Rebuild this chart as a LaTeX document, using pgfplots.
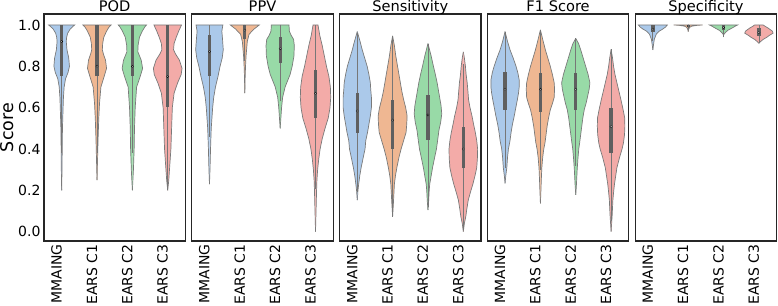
\documentclass[border=0pt]{standalone}
\usepackage{fontspec}
\setmainfont{DejaVu Sans}
\usepackage{pgfplots}
\usepackage{pgfplotstable}
\pgfplotsset{compat=1.18}
\usepgfplotslibrary{groupplots}

\definecolor{cA}{HTML}{ABC9EA}
\definecolor{cB}{HTML}{EFB792}
\definecolor{cC}{HTML}{98DAA7}
\definecolor{cD}{HTML}{F3ABA8}
\definecolor{vgray}{HTML}{7A7A7A}
\definecolor{bgray}{HTML}{5F5F5F}
\definecolor{frm}{HTML}{262626}

% ---------- POD ----------
\pgfplotstableread{
y w
0.20 0
0.30 0.01
0.40 0.015
0.50 0.022
0.60 0.04
0.65 0.05
0.70 0.07
0.74 0.11
0.77 0.18
0.80 0.22
0.84 0.20
0.88 0.15
0.92 0.13
0.94 0.14
0.96 0.17
0.98 0.24
0.99 0.30
1.00 0.37
1.00 0
}\pa
\pgfplotstableread{
y w
0.25 0
0.35 0.015
0.45 0.03
0.55 0.05
0.62 0.07
0.70 0.11
0.75 0.20
0.79 0.27
0.83 0.24
0.86 0.18
0.88 0.15
0.91 0.16
0.94 0.19
0.97 0.27
0.99 0.34
1.00 0.40
1.00 0
}\pb
\pgfplotstableread{
y w
0.20 0
0.30 0.03
0.40 0.05
0.50 0.06
0.60 0.08
0.70 0.12
0.75 0.22
0.79 0.29
0.83 0.25
0.87 0.155
0.90 0.16
0.94 0.20
0.97 0.28
0.99 0.35
1.00 0.40
1.00 0
}\pc
\pgfplotstableread{
y w
0.20 0
0.25 0.03
0.30 0.05
0.40 0.09
0.50 0.11
0.60 0.13
0.67 0.18
0.72 0.28
0.76 0.38
0.79 0.405
0.83 0.33
0.86 0.22
0.88 0.165
0.91 0.18
0.94 0.24
0.97 0.31
1.00 0.39
1.00 0
}\pd
% ---------- PPV ----------
\pgfplotstableread{
y w
0.23 0
0.30 0.015
0.40 0.03
0.50 0.05
0.60 0.09
0.65 0.12
0.70 0.17
0.75 0.24
0.80 0.30
0.84 0.36
0.88 0.39
0.93 0.37
0.97 0.35
1.00 0.38
1.00 0
}\qa
\pgfplotstableread{
y w
0.67 0
0.75 0.01
0.80 0.02
0.85 0.035
0.88 0.05
0.92 0.07
0.955 0.12
0.98 0.26
1.00 0.41
1.00 0
}\qb
\pgfplotstableread{
y w
0.50 0
0.55 0.02
0.60 0.04
0.65 0.07
0.70 0.14
0.76 0.28
0.80 0.34
0.85 0.39
0.90 0.40
0.93 0.38
0.95 0.31
0.97 0.26
1.00 0.25
1.00 0
}\qc
\pgfplotstableread{
y w
0.00 0
0.10 0.015
0.20 0.03
0.25 0.04
0.30 0.06
0.35 0.09
0.40 0.13
0.45 0.19
0.50 0.27
0.55 0.36
0.60 0.41
0.65 0.43
0.70 0.42
0.75 0.38
0.80 0.31
0.85 0.25
0.90 0.19
0.95 0.12
1.00 0.07
1.00 0
}\qd
% ---------- Sensitivity ----------
\pgfplotstableread{
y w
0.153 0
0.20 0.02
0.23 0.04
0.27 0.07
0.31 0.11
0.36 0.17
0.40 0.22
0.44 0.24
0.48 0.29
0.52 0.33
0.56 0.37
0.60 0.40
0.65 0.40
0.69 0.38
0.72 0.37
0.76 0.33
0.80 0.28
0.84 0.21
0.88 0.14
0.92 0.08
0.968 0
}\ra
\pgfplotstableread{
y w
0.073 0
0.13 0.02
0.18 0.035
0.23 0.05
0.27 0.08
0.31 0.12
0.36 0.18
0.40 0.24
0.44 0.31
0.48 0.38
0.52 0.40
0.56 0.41
0.60 0.37
0.64 0.31
0.68 0.26
0.72 0.22
0.76 0.18
0.80 0.14
0.85 0.09
0.90 0.05
0.947 0
}\rb
\pgfplotstableread{
y w
0.105 0
0.15 0.02
0.20 0.035
0.23 0.05
0.27 0.09
0.31 0.13
0.36 0.19
0.40 0.24
0.45 0.28
0.49 0.31
0.53 0.36
0.57 0.39
0.61 0.37
0.64 0.34
0.68 0.30
0.72 0.26
0.76 0.21
0.80 0.155
0.85 0.09
0.91 0
}\rc
\pgfplotstableread{
y w
0.00 0
0.04 0.03
0.073 0.07
0.11 0.10
0.153 0.14
0.19 0.20
0.23 0.27
0.27 0.33
0.31 0.38
0.36 0.40
0.40 0.405
0.44 0.38
0.48 0.34
0.52 0.29
0.556 0.25
0.60 0.19
0.637 0.15
0.68 0.13
0.72 0.11
0.76 0.08
0.80 0.06
0.84 0.03
0.87 0
}\rd
% ---------- F1 Score ----------
\pgfplotstableread{
y w
0.234 0
0.27 0.02
0.31 0.05
0.36 0.07
0.40 0.095
0.44 0.14
0.48 0.17
0.52 0.21
0.56 0.26
0.605 0.31
0.64 0.35
0.67 0.38
0.70 0.40
0.734 0.40
0.77 0.36
0.80 0.31
0.84 0.23
0.88 0.14
0.92 0.07
0.968 0
}\sa
\pgfplotstableread{
y w
0.137 0
0.20 0.015
0.25 0.025
0.31 0.04
0.36 0.065
0.40 0.095
0.43 0.13
0.47 0.16
0.51 0.19
0.55 0.23
0.59 0.28
0.62 0.34
0.65 0.39
0.69 0.40
0.72 0.39
0.76 0.34
0.80 0.28
0.84 0.21
0.88 0.14
0.92 0.08
0.976 0
}\sb
\pgfplotstableread{
y w
0.178 0
0.23 0.02
0.30 0.04
0.35 0.06
0.40 0.085
0.43 0.11
0.47 0.14
0.51 0.17
0.55 0.20
0.59 0.24
0.62 0.29
0.65 0.33
0.69 0.38
0.72 0.40
0.76 0.35
0.80 0.28
0.84 0.21
0.88 0.14
0.91 0.08
0.935 0
}\sc
\pgfplotstableread{
y w
0.00 0
0.08 0.03
0.153 0.05
0.19 0.07
0.23 0.095
0.27 0.13
0.31 0.165
0.36 0.24
0.40 0.31
0.43 0.35
0.47 0.38
0.51 0.39
0.55 0.385
0.59 0.34
0.637 0.28
0.68 0.22
0.72 0.165
0.76 0.11
0.80 0.07
0.84 0.04
0.882 0
}\sd
% ---------- Specificity ----------
\pgfplotstableread{
y w
0.879 0
0.90 0.015
0.93 0.04
0.955 0.095
0.97 0.18
0.98 0.28
0.99 0.36
1.00 0.41
1.00 0
}\ta
\pgfplotstableread{
y w
0.968 0
0.98 0.015
0.988 0.04
0.994 0.10
0.998 0.25
1.00 0.41
1.00 0
}\tb
\pgfplotstableread{
y w
0.952 0
0.963 0.05
0.974 0.12
0.987 0.26
0.995 0.34
1.00 0.40
1.00 0
}\tc
\pgfplotstableread{
y w
0.911 0
0.92 0.05
0.93 0.12
0.94 0.22
0.95 0.30
0.96 0.40
0.97 0.38
0.98 0.30
0.985 0.26
0.993 0.18
1.00 0.12
1.00 0
}\td

% #1 table, #2 centre, #3 colour, #4 whisker low, #5 q1, #6 median, #7 q3, #8 whisker high
\newcommand{\violin}[8]{%
  \addplot[fill=#3, draw=vgray, line width=0.7pt] table[x expr=#2+\thisrow{w}, y=y]{#1};
  \addplot[fill=#3, draw=vgray, line width=0.7pt] table[x expr=#2-\thisrow{w}, y=y]{#1};
  \addplot[bgray!85, line width=0.8pt] coordinates {(#2,#4) (#2,#8)};
  \addplot[bgray, line width=3.3pt] coordinates {(#2,#5) (#2,#7)};
  \addplot[only marks, mark=*, mark size=1.1pt, mark options={fill=white, draw=none}] coordinates {(#2,#6)};
}

\begin{document}
\begin{tikzpicture}
\begin{groupplot}[
  group style={group size=5 by 1, horizontal sep=6.4pt, yticklabels at=edge left},
  width=141.4pt, height=227pt, scale only axis,
  xmin=-0.5, xmax=3.5, ymin=-0.045, ymax=1.053,
  xtick={0,1,2,3}, xticklabels={MMAING, EARS C1, EARS C2, EARS C3},
  ytick={0,0.2,0.4,0.6,0.8,1.0},
  yticklabel style={/pgf/number format/.cd, fixed, fixed zerofill, precision=1},
  /pgf/number format/assume math mode=true,
  major tick length=0pt,
  tick label style={font=\fontsize{14}{16}\selectfont},
  xticklabel style={rotate=90, anchor=base east},
  axis line style={frm, line width=1.25pt},
  every axis title shift=0pt,
  title style={font=\fontsize{14.6}{17}\selectfont, at={(0.5,1)}, anchor=base, yshift=2.3pt},
]
\nextgroupplot[title=POD, ylabel=Score,
  ylabel style={font=\fontsize{17.5}{20}\selectfont, at={(axis description cs:-0.216,0.5)}, anchor=base, rotate=0}]
\violin{\pa}{0}{cA}{0.38}{0.753}{0.92}{1.0}{1.0}
\violin{\pb}{1}{cB}{0.38}{0.753}{0.80}{1.0}{1.0}
\violin{\pc}{2}{cC}{0.38}{0.753}{0.80}{1.0}{1.0}
\violin{\pd}{3}{cD}{0.20}{0.605}{0.75}{1.0}{1.0}

\nextgroupplot[title=PPV]
\violin{\qa}{0}{cA}{0.46}{0.753}{0.87}{0.95}{1.0}
\violin{\qb}{1}{cB}{0.825}{0.93}{0.975}{1.0}{1.0}
\violin{\qc}{2}{cC}{0.63}{0.815}{0.885}{0.94}{1.0}
\violin{\qd}{3}{cD}{0.205}{0.55}{0.67}{0.78}{1.0}

\nextgroupplot[title=Sensitivity]
\violin{\ra}{0}{cA}{0.19}{0.479}{0.584}{0.673}{0.96}
\violin{\rb}{1}{cB}{0.073}{0.40}{0.54}{0.637}{0.947}
\violin{\rc}{2}{cC}{0.12}{0.444}{0.565}{0.66}{0.91}
\violin{\rd}{3}{cD}{0.007}{0.307}{0.40}{0.508}{0.81}

\nextgroupplot[title=F1 Score]
\violin{\sa}{0}{cA}{0.31}{0.589}{0.689}{0.774}{0.968}
\violin{\sb}{1}{cB}{0.30}{0.58}{0.689}{0.766}{0.976}
\violin{\sc}{2}{cC}{0.32}{0.589}{0.689}{0.766}{0.935}
\violin{\sd}{3}{cD}{0.05}{0.38}{0.508}{0.60}{0.882}

\nextgroupplot[title=Specificity]
\violin{\ta}{0}{cA}{0.92}{0.968}{0.98}{1.0}{1.0}
\violin{\tb}{1}{cB}{0.975}{0.99}{0.995}{1.0}{1.0}
\violin{\tc}{2}{cC}{0.94}{0.975}{0.987}{1.0}{1.0}
\violin{\td}{3}{cD}{0.911}{0.948}{0.963}{0.987}{1.0}
\end{groupplot}
\pgfresetboundingbox
\path (group c1r1.north west) ++(-44pt,14pt) rectangle ++(778pt,-305pt);
\end{tikzpicture}
\end{document}
